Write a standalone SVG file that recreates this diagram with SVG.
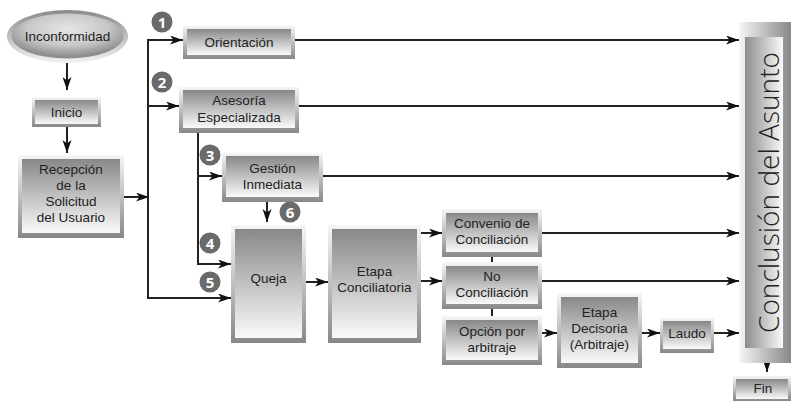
<svg xmlns="http://www.w3.org/2000/svg" width="792" height="401" viewBox="0 0 792 401">
<style>
.t{font-family:"Liberation Sans",Arial,sans-serif;font-size:13.5px;fill:#222;text-anchor:middle}
.big{font-family:"Open Sans","Noto Sans","DejaVu Sans",sans-serif;font-size:27px;font-weight:300;fill:#222;text-anchor:middle}
.fr{fill:url(#gFrame)}
.in{fill:url(#gInner)}
.c line,.c path{stroke:#222;stroke-width:2;fill:none}
.a{marker-end:url(#arr)}
.bd circle{fill:#6a6a6a}
.bd text{font-family:"Open Sans","Noto Sans","DejaVu Sans",sans-serif;font-size:15px;font-weight:bold;fill:#fff;text-anchor:middle}
</style>
<defs>
<linearGradient id="gFrame" x1="0" y1="0" x2="0" y2="1"><stop offset="0" stop-color="#f6f6f6"/><stop offset="1" stop-color="#888"/></linearGradient>
<linearGradient id="gInner" x1="0" y1="0" x2="0" y2="1"><stop offset="0" stop-color="#888"/><stop offset="1" stop-color="#fafafa"/></linearGradient>
<linearGradient id="gFrameH" x1="0" y1="0" x2="1" y2="0"><stop offset="0" stop-color="#f6f6f6"/><stop offset="1" stop-color="#888"/></linearGradient>
<linearGradient id="gInnerH" x1="0" y1="0" x2="1" y2="0"><stop offset="0" stop-color="#8c8c8c"/><stop offset="1" stop-color="#fafafa"/></linearGradient>
<linearGradient id="gEllO" x1="0" y1="0" x2="0" y2="1"><stop offset="0" stop-color="#8a8a8a"/><stop offset="1" stop-color="#f2f2f2"/></linearGradient>
<radialGradient id="gEllI" cx="0.5" cy="0.35" r="0.6"><stop offset="0" stop-color="#e6e6e6"/><stop offset="0.6" stop-color="#c8c8c8"/><stop offset="1" stop-color="#8e8e8e"/></radialGradient>
<marker id="arr" markerUnits="userSpaceOnUse" markerWidth="14" markerHeight="10" refX="13" refY="4.5" orient="auto"><path d="M0,0 L13,4.5 L0,9 L3.5,4.5 z" fill="#111"/></marker>
</defs>

<g id="connectors" class="c">
<line class="a" x1="67" y1="63" x2="67" y2="90"/>
<line class="a" x1="67" y1="127" x2="67" y2="153"/>
<line class="a" x1="124" y1="197" x2="149" y2="197"/>
<line x1="148" y1="39" x2="148" y2="299"/>
<line class="a" x1="148" y1="40" x2="183" y2="40"/>
<line class="a" x1="148" y1="106" x2="179" y2="106"/>
<line class="a" x1="148" y1="298" x2="231" y2="298"/>
<line x1="198" y1="133" x2="198" y2="265"/>
<line class="a" x1="198" y1="176" x2="222" y2="176"/>
<line class="a" x1="198" y1="264" x2="231" y2="264"/>
<line class="a" x1="267" y1="202" x2="267" y2="222"/>
<line class="a" x1="306" y1="282" x2="328" y2="282"/>
<line class="a" x1="421" y1="233" x2="442" y2="233"/>
<line class="a" x1="421" y1="281" x2="442" y2="281"/>
<line x1="492" y1="257" x2="492" y2="262"/>
<line x1="492" y1="309" x2="492" y2="316"/>
<line class="a" x1="542" y1="333" x2="557" y2="333"/>
<line class="a" x1="642" y1="333" x2="660" y2="333"/>
<line class="a" x1="714" y1="333" x2="739" y2="333"/>
<line class="a" x1="295" y1="40" x2="739" y2="40"/>
<line class="a" x1="299" y1="106" x2="739" y2="106"/>
<line class="a" x1="323" y1="176" x2="739" y2="176"/>
<line class="a" x1="542" y1="233" x2="739" y2="233"/>
<line class="a" x1="542" y1="281" x2="739" y2="281"/>
<line class="a" x1="767" y1="363" x2="767" y2="372"/>
</g>

<g id="inconformidad">
<ellipse cx="67.5" cy="36.5" rx="60.5" ry="26.5" fill="url(#gEllO)"/>
<ellipse cx="67.5" cy="36" rx="56" ry="22.5" fill="url(#gEllI)"/>
<text class="t" x="67.5" y="41">Inconformidad</text>
</g>

<g id="inicio">
<rect class="fr" x="32" y="97" width="69" height="30"/>
<rect class="in" x="35" y="100" width="63" height="24"/>
<text class="t" x="66.5" y="116.5">Inicio</text>
</g>

<g id="recepcion">
<rect class="fr" x="18" y="155" width="106" height="83"/>
<rect class="in" x="22" y="159" width="98" height="74"/>
<text class="t" y="173.5"><tspan x="71">Recepción</tspan><tspan x="71" dy="16">de la</tspan><tspan x="71" dy="16">Solicitud</tspan><tspan x="71" dy="16">del Usuario</tspan></text>
</g>

<g id="orientacion">
<rect class="fr" x="183" y="26" width="112" height="33"/>
<rect class="in" x="187" y="29" width="104" height="26"/>
<text class="t" x="239" y="46.5">Orientación</text>
</g>

<g id="asesoria">
<rect class="fr" x="179" y="87" width="120" height="46"/>
<rect class="in" x="183" y="90" width="112" height="38"/>
<text class="t" y="104.5"><tspan x="239">Asesoría</tspan><tspan x="239" dy="17">Especializada</tspan></text>
</g>

<g id="gestion">
<rect class="fr" x="222" y="153" width="101" height="49"/>
<rect class="in" x="226" y="156" width="93" height="41"/>
<text class="t" y="172.5"><tspan x="272.5">Gestión</tspan><tspan x="272.5" dy="16">Inmediata</tspan></text>
</g>

<g id="queja">
<rect class="fr" x="231" y="225" width="75" height="118"/>
<rect class="in" x="235" y="229" width="67" height="109"/>
<text class="t" x="268.5" y="282.5">Queja</text>
</g>

<g id="etapa-conciliatoria">
<rect class="fr" x="328" y="225" width="93" height="118"/>
<rect class="in" x="332" y="229" width="85" height="109"/>
<text class="t" y="276"><tspan x="374.5">Etapa</tspan><tspan x="374.5" dy="16">Conciliatoria</tspan></text>
</g>

<g id="convenio">
<rect class="fr" x="442" y="209" width="100" height="48"/>
<rect class="in" x="446" y="213" width="92" height="39"/>
<text class="t" y="227.5"><tspan x="492">Convenio de</tspan><tspan x="492" dy="16">Conciliación</tspan></text>
</g>

<g id="no-conciliacion">
<rect class="fr" x="442" y="262" width="100" height="47"/>
<rect class="in" x="446" y="266" width="92" height="38"/>
<text class="t" y="281"><tspan x="492">No</tspan><tspan x="492" dy="16">Conciliación</tspan></text>
</g>

<g id="opcion-arbitraje">
<rect class="fr" x="442" y="316" width="100" height="49"/>
<rect class="in" x="446" y="320" width="92" height="40"/>
<text class="t" y="336"><tspan x="492">Opción por</tspan><tspan x="492" dy="16">arbitraje</tspan></text>
</g>

<g id="etapa-decisoria">
<rect class="fr" x="557" y="293" width="85" height="75"/>
<rect class="in" x="561" y="297" width="77" height="66"/>
<text class="t" y="317"><tspan x="599.5">Etapa</tspan><tspan x="599.5" dy="16">Decisoria</tspan><tspan x="599.5" dy="16">(Arbitraje)</tspan></text>
</g>

<g id="laudo">
<rect class="fr" x="660" y="318" width="54" height="35"/>
<rect class="in" x="663" y="321" width="48" height="28"/>
<text class="t" x="687" y="337.5">Laudo</text>
</g>

<g id="conclusion">
<rect x="739" y="22" width="52" height="341" fill="url(#gFrameH)"/>
<rect x="745" y="37" width="38" height="311" fill="url(#gInnerH)"/>
<text class="big" transform="translate(779,192.5) rotate(-90)" x="0" y="0" textLength="281" lengthAdjust="spacingAndGlyphs">Conclusión del Asunto</text>
</g>

<g id="fin">
<rect class="fr" x="733" y="376" width="58" height="25"/>
<rect class="in" x="736" y="379" width="52" height="20"/>
<text class="t" x="763" y="393">Fin</text>
</g>

<g id="badges" class="bd">
<circle cx="162" cy="22" r="10.5"/><text x="162" y="27.5">1</text>
<circle cx="162" cy="82" r="10.5"/><text x="162" y="87.5">2</text>
<circle cx="210" cy="155" r="10.5"/><text x="210" y="160.5">3</text>
<circle cx="210" cy="243" r="10.5"/><text x="210" y="248.5">4</text>
<circle cx="210" cy="282" r="10.5"/><text x="210" y="287.5">5</text>
<circle cx="290" cy="212" r="10.5"/><text x="290" y="217.5">6</text>
</g>
</svg>
